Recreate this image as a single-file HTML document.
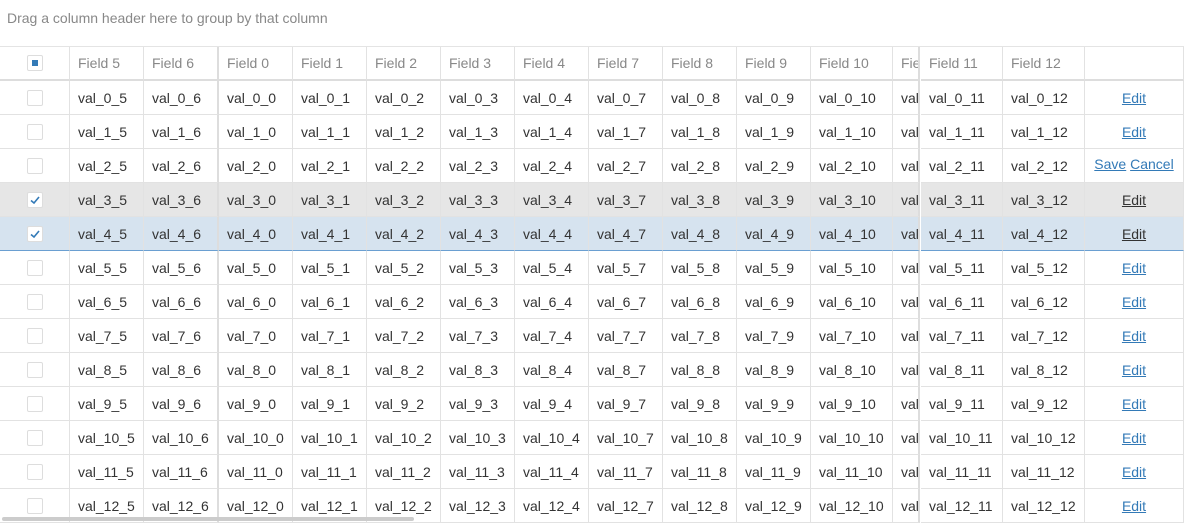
<!DOCTYPE html>
<html><head><meta charset="utf-8"><style>
body{margin:0;width:1184px;height:523px;overflow:hidden;background:#fff;font-family:"Liberation Sans",sans-serif;font-size:14px;color:#333;position:relative}
.a{position:absolute;box-sizing:border-box}
.c{position:absolute;box-sizing:border-box;height:34px;line-height:34px;padding-left:8px;white-space:nowrap;overflow:hidden;border-right:1px solid #e2e2e2;border-bottom:1px solid #e2e2e2}
.h{color:#888;height:34px;line-height:33px;border-bottom:2px solid #ddd}
.cb{position:absolute;left:27px;width:16px;height:16px;border:1px solid #ddd;border-radius:2px;background:#fff;box-sizing:border-box}
a{color:#337ab7;text-decoration:underline}
</style></head><body>
<div class="a" style="left:0;top:0;width:1184px;height:47px;border-bottom:1px solid #e4e4e4;color:#888;padding:10px 7px">Drag a column header here to group by that column</div>
<div id="g"></div>
<div class="a" style="left:2px;top:517px;width:412px;height:4px;background:#ccc;border-radius:2px"></div>
<script>
const cols=[["",0,70],["Field 5",70,74,5],["Field 6",144,75,6],["Field 0",219,74,0],["Field 1",293,74,1],["Field 2",367,74,2],["Field 3",441,74,3],["Field 4",515,74,4],["Field 7",589,74,7],["Field 8",663,74,8],["Field 9",737,74,9],["Field 10",811,82,10],["Field 11",893,27,11],["Field 11",921,82,11],["Field 12",1003,82,12],["",1085,99]];
const rowCount=13;
const g=document.getElementById('g');
function cell(x,y,w,cls,html){const d=document.createElement('div');d.className=cls;d.style.left=x+'px';d.style.top=y+'px';d.style.width=w+'px';d.innerHTML=html;g.appendChild(d);return d;}
cols.forEach((c,i)=>{
 let t=c[0]; if(i===12)t="Field 11";
 const d=cell(c[1],47,c[2],'c h',t);
 
 
 if(i===2||i===12)d.style.borderRight='2px solid #ddd';
});
const hb=document.createElement('div');hb.className='cb';hb.style.top='55px';hb.innerHTML='<div style="position:absolute;left:4px;top:4px;width:6px;height:6px;background:#337ab7"></div>';


g.appendChild(hb);
for(let r=0;r<rowCount;r++){
 const y=81+r*34;
 const bg=r===3?'#e6e6e6':r===4?'#d6e3ef':'#fff';
 cols.forEach((c,i)=>{
  let html='';
  if(i>0&&i<15)html='val_'+r+'_'+c[3];
  if(i===15){html=r===2?'<a>Save</a> <a>Cancel</a>':(r===3||r===4)?'<a style="color:#333">Edit</a>':'<a>Edit</a>';}
  const d=cell(c[1],y,c[2],'c',html);
  d.style.background=bg;
  if(i===15){d.style.textAlign='center';d.style.paddingLeft='0';if(r===2)d.style.lineHeight='30px';}
  if(i===2||i===12)d.style.borderRight='2px solid #ddd';
  if(r===4)d.style.borderBottom='1px solid #6a9fd1';
  
  
 });
 const cb=document.createElement('div');cb.className='cb';cb.style.top=(y+9)+'px';
 if(r===3||r===4)cb.innerHTML='<svg width="14" height="14" style="position:absolute;left:0;top:0"><path d="M3 7.5L6 10L11 4" stroke="#337ab7" stroke-width="1.6" fill="none"/></svg>';
 
 
 g.appendChild(cb);
}
</script>
</body></html>
